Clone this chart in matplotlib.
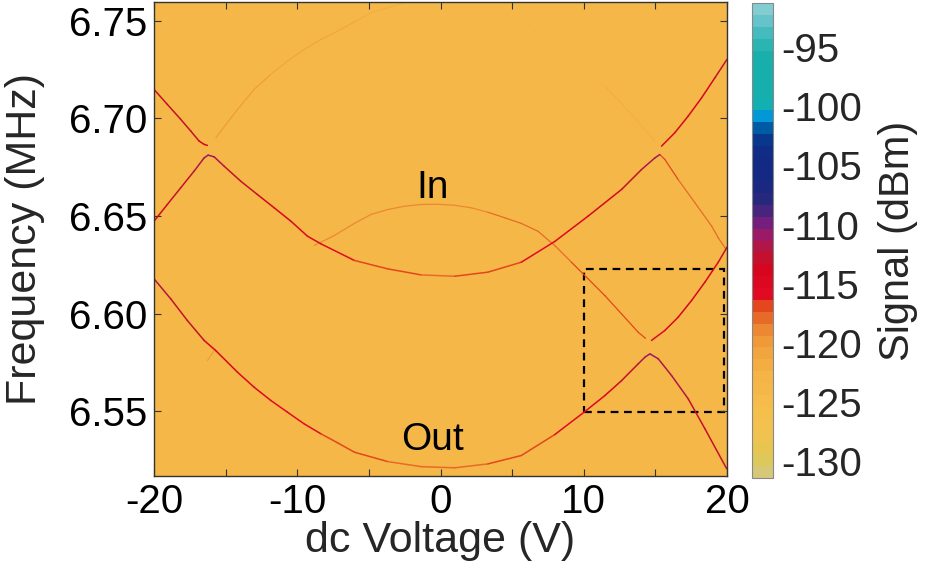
import numpy as np
import matplotlib
matplotlib.use("Agg")
import matplotlib.pyplot as plt
from matplotlib.collections import LineCollection
from matplotlib.colors import LinearSegmentedColormap, Normalize
from matplotlib.cm import ScalarMappable
from matplotlib.patches import Rectangle
from matplotlib.ticker import MultipleLocator

plt.rcParams['font.family'] = ['Liberation Sans', 'DejaVu Sans']
plt.rcParams['axes.unicode_minus'] = False

# --- data: dc voltage (V), frequency (MHz), signal (dBm)
out_v = [-20.0, -18.83, -17.67, -16.50, -15.69, -14.17, -13.01, -11.84, -10.68, -9.51,
         -8.34, -7.18, -6.01, -3.69, -1.35, 0.98, 3.31, 5.64, 7.97, 10.02, 11.47,
         12.64, 13.80, 14.30, 14.62, 15.20, 16.13, 17.29, 18.46, 19.98]
out_f = [6.6178, 6.6075, 6.5964, 6.5862, 6.5810, 6.5699, 6.5622, 6.5554, 6.5494,
         6.5434, 6.5383, 6.5337, 6.5289, 6.5241, 6.5215, 6.5209, 6.5229, 6.5272,
         6.5379, 6.5494, 6.5579, 6.5656, 6.5742, 6.5778, 6.5793, 6.5768, 6.5682,
         6.5563, 6.5409, 6.5204]
out_lvl = [-112, -112.5, -113, -113.5, -114, -114.5, -115, -115.5, -116, -116, -116.5,
           -117, -117, -117.5, -117.5, -117.5, -117.5, -117, -116, -115, -114, -113,
           -112, -111, -110.5, -111, -112, -112.5, -113, -113]

in_v = [-20.0, -19.07, -18.13, -17.20, -16.50, -16.22, -15.80, -15.10, -13.94, -12.78,
        -11.61, -10.44, -9.28, -8.34, -6.01, -3.69, -1.35, 0.98, 3.31, 5.64, 7.97,
        10.30, 12.64, 14.03, 14.97, 15.31]
in_f = [6.6473, 6.6559, 6.6645, 6.6730, 6.6798, 6.6812, 6.6803, 6.6755, 6.6678,
        6.6610, 6.6542, 6.6473, 6.6396, 6.6357, 6.6272, 6.6229, 6.6198, 6.6191,
        6.6212, 6.6263, 6.6369, 6.6499, 6.6636, 6.6738, 6.6798, 6.6815]
in_lvl = [-114, -113.5, -113, -112, -111, -110.5, -111, -112, -113, -113.5, -114,
          -114.5, -115, -115.5, -116.5, -117, -117.5, -117.5, -117, -116.5, -115.5,
          -114.5, -113.5, -112.5, -111, -110.5]

in_tail_v = [15.31, 15.66, 16.59, 17.76, 18.93, 19.39, 19.95]
in_tail_f = [6.6815, 6.6790, 6.6687, 6.6568, 6.6448, 6.6388, 6.6328]
in_tail_lvl = [-116, -117, -117.5, -118, -118, -118, -118]

upper_left_v = [-20.0, -19.07, -18.13, -17.43, -16.85, -16.50, -16.27]
upper_left_f = [6.7149, 6.7072, 6.6995, 6.6935, 6.6884, 6.6867, 6.6862]
upper_left_lvl = [-112.5, -112.5, -113, -113, -113.5, -114, -115]

upper_right_v = [15.43, 16.36, 17.29, 18.23, 19.16, 20.0]
upper_right_f = [6.6858, 6.6927, 6.7012, 6.7106, 6.7209, 6.7303]
upper_right_lvl = [-115.5, -114.5, -114, -113.5, -113.5, -113]

arc_left_v = [-15.69, -14.17, -13.01, -11.84, -10.68, -9.51, -8.34, -7.18, -6.01,
              -4.85, -3.69, -2.52]
arc_left_f = [6.6901, 6.7046, 6.7149, 6.7226, 6.7294, 6.7354, 6.7405, 6.7448,
              6.7495, 6.7542, 6.7568, 6.7593]
arc_left_lvl = [-119.5, -120, -120, -120.5, -120.5, -121, -121, -121, -121.5,
                -121.5, -121.5, -121.5]

arc_right_v = [14.97, 13.22, 11.47, 9.72, 7.97, 6.22, 4.48]
arc_right_f = [6.6884, 6.7031, 6.7166, 6.7287, 6.7388, 6.7472, 6.7538]
arc_right_lvl = [-122, -122, -122.5, -122.5, -122.5, -122.5, -122.5]

dome_v = [-8.81, -7.41, -6.01, -4.85, -3.69, -2.52, -1.35, -0.19, 0.98, 2.15, 3.31,
          4.48, 5.64, 6.80, 7.97, 9.14, 10.30, 11.47, 12.64, 13.80, 14.31]
dome_f = [6.6349, 6.6400, 6.6462, 6.6508, 6.6533, 6.6550, 6.6559, 6.6560, 6.6555,
          6.6542, 6.6519, 6.6491, 6.6462, 6.6422, 6.6349, 6.6263, 6.6178, 6.6092,
          6.5998, 6.5904, 6.5873]
dome_lvl = [-119.5, -119, -118.5, -118.5, -118.5, -118.5, -118.5, -118.5, -118.5,
            -118.5, -118.5, -118, -118, -118, -117.5, -117.5, -117, -117, -117,
            -116.5, -116.5]

cusp_v = [14.73, 15.66, 16.59, 17.53, 18.46, 19.39, 20.0]
cusp_f = [6.5862, 6.5913, 6.5981, 6.6067, 6.6161, 6.6263, 6.6340]
cusp_lvl = [-116, -115, -114.5, -114, -113.5, -113.5, -113]

kink_v = [-16.27, -15.73]
kink_f = [6.5759, 6.5819]
kink_lvl = [-120, -119]

curves = [
    (arc_left_v, arc_left_f, arc_left_lvl, 0.8),
    (arc_right_v, arc_right_f, arc_right_lvl, 0.7),
    (kink_v, kink_f, kink_lvl, 0.8),
    (dome_v, dome_f, dome_lvl, 0.9),
    (in_tail_v, in_tail_f, in_tail_lvl, 0.9),
    (out_v, out_f, out_lvl, 1.1),
    (in_v, in_f, in_lvl, 1.1),
    (upper_left_v, upper_left_f, upper_left_lvl, 1.1),
    (upper_right_v, upper_right_f, upper_right_lvl, 1.1),
    (cusp_v, cusp_f, cusp_lvl, 1.1),
]

background_lvl = -123.5
zoom_box = (10.0, 19.77, 6.5494, 6.6229)  # V0, V1, f0, f1

cbar_ticks = [-95, -100, -105, -110, -115, -120, -125, -130]
v_min, v_max = -131.4, -91.3

# colour scale, banded like the original
anchors = [
    (-131.4, (215, 200, 120)), (-130, (222, 200, 80)), (-128.5, (240, 195, 80)),
    (-126, (246, 190, 75)), (-123, (245, 180, 70)), (-120.5, (240, 160, 60)),
    (-119, (236, 135, 50)), (-118, (232, 105, 40)), (-117, (228, 70, 30)),
    (-116, (225, 10, 35)), (-114, (215, 5, 30)), (-112.5, (190, 20, 50)),
    (-111, (160, 25, 100)), (-110, (125, 30, 125)), (-109, (80, 35, 125)),
    (-108, (40, 40, 125)), (-106, (20, 40, 130)), (-103, (15, 45, 135)),
    (-102, (0, 70, 150)), (-101, (0, 120, 190)), (-100.3, (0, 170, 230)),
    (-99.5, (20, 175, 175)), (-95, (25, 175, 170)), (-93, (80, 190, 195)),
    (-91.3, (130, 205, 210)),
]
pos = [(a - v_min) / (v_max - v_min) for a, _ in anchors]
cols = [tuple(c / 255 for c in rgb) for _, rgb in anchors]
cmap = LinearSegmentedColormap.from_list('signal', list(zip(pos, cols)), N=40)
norm = Normalize(vmin=v_min, vmax=v_max)

fig = plt.figure(figsize=(9.38, 5.74), dpi=100)
ax = fig.add_axes([154 / 938, 1 - 476 / 574, 573 / 938, 474 / 574])
ax.set_facecolor(cmap(norm(background_lvl)))

for v, f, lvl, lw in curves:
    pts = np.column_stack([v, f])
    segs = np.stack([pts[:-1], pts[1:]], axis=1)
    seg_lvl = (np.array(lvl[:-1]) + np.array(lvl[1:])) / 2
    lc = LineCollection(segs, cmap=cmap, norm=norm, linewidths=lw,
                        capstyle='round', joinstyle='round')
    lc.set_array(seg_lvl)
    ax.add_collection(lc)

x0, x1, y0, y1 = zoom_box
ax.add_patch(Rectangle((x0, y0), x1 - x0, y1 - y0, fill=False, ec='black',
                       lw=1.6, ls=(0, (3.5, 2.5))))

ax.text(-0.56, 6.6646, 'In', fontsize=28, ha='center', va='center')
ax.text(-0.56, 6.5349, 'Out', fontsize=28, ha='center', va='center')

ax.set_xlim(-20, 20)
ax.set_ylim(6.5167, 6.7597)
ax.xaxis.set_major_locator(MultipleLocator(10))
ax.xaxis.set_minor_locator(MultipleLocator(5))
ax.set_yticks([6.55, 6.60, 6.65, 6.70, 6.75])
ax.set_yticklabels(['6.55', '6.60', '6.65', '6.70', '6.75'])
ax.set_xticklabels([f'{int(t)}' for t in ax.get_xticks()])
ax.tick_params(which='both', direction='in', top=True, right=True,
               length=5, width=0.8, color='#333333', labelsize=29, pad=5)
for s in ax.spines.values():
    s.set_color('#333333')
    s.set_linewidth(1.0)
ax.set_xlabel('dc Voltage (V)', fontsize=31, color='#262626', labelpad=0)
ax.set_ylabel('Frequency (MHz)', fontsize=31, color='#262626')
ax.yaxis.set_label_coords(-0.19, 0.5)

cax = fig.add_axes([752 / 938, 1 - 478 / 574, 20.5 / 938, 475 / 574])
cb = fig.colorbar(ScalarMappable(norm=norm, cmap=cmap), cax=cax)
cb.set_ticks(cbar_ticks)
cb.set_ticklabels([str(t) for t in cbar_ticks])
cb.ax.tick_params(length=0, labelsize=29, labelcolor='#262626', pad=6)
cb.outline.set_edgecolor('#888888')
cb.outline.set_linewidth(0.8)
cb.set_label('Signal (dBm)', fontsize=30, color='#262626', labelpad=12)

fig.savefig('out.png', dpi=100)
